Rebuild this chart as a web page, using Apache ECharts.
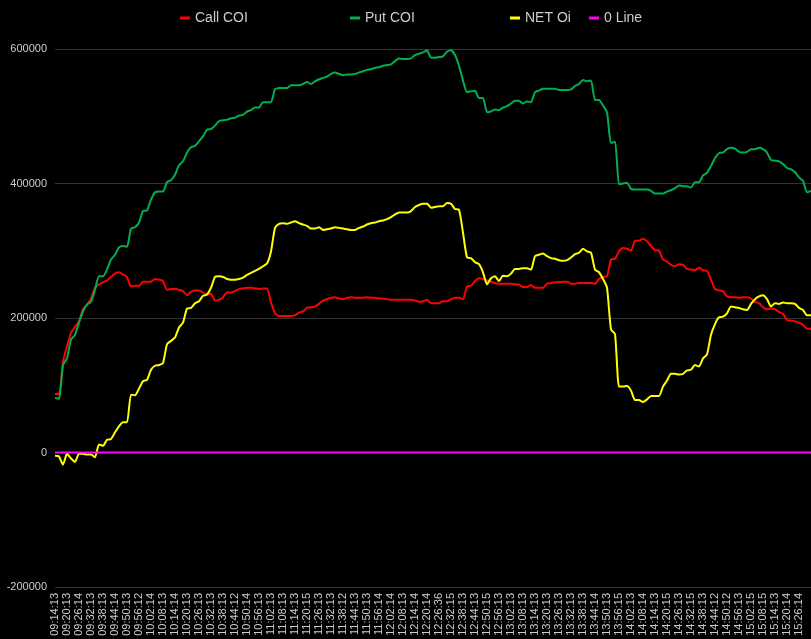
<!DOCTYPE html>
<html>
<head>
<meta charset="utf-8">
<title>COI</title>
<script src="https://cdn.jsdelivr.net/npm/echarts@6/dist/echarts.min.js"></script>
<style>
  html, body { margin: 0; padding: 0; background: #000; }
  #chart { width: 811px; height: 639px; }
</style>
</head>
<body>
<div id="chart"></div>
<script>
// time labels shown on the axis, one every 6 minutes
const tickLabels = [
  '09:14:13', '09:20:13', '09:26:14', '09:32:13', '09:38:13', '09:44:14', '09:50:13', '09:56:12',
  '10:02:14', '10:08:13', '10:14:14', '10:20:13', '10:26:13', '10:32:13', '10:38:13', '10:44:12', '10:50:14', '10:56:13',
  '11:02:13', '11:08:13', '11:14:13', '11:20:15', '11:26:13', '11:32:13', '11:38:12', '11:44:13', '11:50:13', '11:56:14',
  '12:02:14', '12:08:13', '12:14:14', '12:20:14', '12:26:36', '12:32:15', '12:38:13', '12:44:13', '12:50:15', '12:56:13',
  '13:02:13', '13:08:13', '13:14:13', '13:20:13', '13:26:13', '13:32:13', '13:38:13', '13:44:14', '13:50:13', '13:56:15',
  '14:02:13', '14:08:14', '14:14:13', '14:20:15', '14:26:13', '14:32:15', '14:38:13', '14:44:12', '14:50:12', '14:56:13',
  '15:02:15', '15:08:15', '15:14:13', '15:20:14', '15:26:14'
]

const callCOI = [
  87000, 87000, 135000, 158000, 178000, 187000, 195000, 213000, 220000, 229000,
  245000, 250000, 253000, 256000, 261000, 266000, 268000, 265000, 261000, 247000,
  248000, 248000, 254000, 254000, 254000, 258000, 257000, 255000, 242000, 243000,
  243000, 242000, 240000, 234000, 239000, 241000, 241000, 238000, 235000, 236000,
  226000, 227000, 231000, 238000, 238000, 240000, 243000, 244000, 245000, 245000,
  244000, 243000, 244000, 244000, 223000, 207000, 203000, 203000, 203000, 203000,
  204000, 208000, 210000, 215000, 216000, 217000, 221000, 226000, 228000, 230000,
  231000, 229000, 228000, 230000, 231000, 230000, 230000, 230000, 231000, 230000,
  230000, 229000, 229000, 228000, 227000, 227000, 227000, 227000, 227000, 227000,
  226000, 224000, 225000, 227000, 222000, 222000, 222000, 225000, 225000, 228000,
  230000, 230000, 228000, 247000, 248000, 255000, 259000, 258000, 256000, 254000,
  252000, 251000, 251000, 251000, 251000, 250000, 250000, 246000, 246000, 249000,
  245000, 245000, 245000, 251000, 252000, 253000, 253000, 254000, 254000, 251000,
  251000, 252000, 252000, 252000, 252000, 251000, 258000, 261000, 262000, 287000,
  288000, 299000, 304000, 303000, 300000, 315000, 315000, 318000, 314000, 307000,
  301000, 300000, 287000, 284000, 279000, 277000, 280000, 279000, 273000, 272000,
  271000, 275000, 271000, 270000, 257000, 243000, 241000, 240000, 232000, 231000,
  231000, 230000, 231000, 231000, 229000, 224000, 222000, 216000, 213000, 214000,
  213000, 209000, 206000, 197000, 196000, 195000, 193000, 190000, 184000, 184000
]

const putCOI = [
  81000, 80000, 130000, 140000, 168000, 175000, 193000, 210000, 220000, 224000,
  242000, 262000, 262000, 272000, 287000, 294000, 305000, 307000, 306000, 333000,
  335000, 342000, 359000, 360000, 376000, 387000, 388000, 388000, 402000, 405000,
  413000, 427000, 433000, 446000, 454000, 456000, 463000, 470000, 480000, 481000,
  486000, 493000, 494000, 495000, 497000, 498000, 501000, 502000, 507000, 509000,
  513000, 513000, 521000, 521000, 521000, 540000, 542000, 542000, 542000, 546000,
  546000, 546000, 548000, 551000, 548000, 552000, 555000, 557000, 559000, 563000,
  565000, 563000, 561000, 562000, 562000, 563000, 565000, 567000, 569000, 570000,
  572000, 573000, 575000, 576000, 577000, 582000, 586000, 585000, 585000, 586000,
  591000, 593000, 595000, 598000, 587000, 587000, 588000, 589000, 596000, 598000,
  591000, 575000, 553000, 536000, 537000, 538000, 527000, 527000, 506000, 507000,
  510000, 509000, 513000, 515000, 519000, 523000, 523000, 519000, 522000, 521000,
  536000, 538000, 541000, 541000, 541000, 541000, 539000, 539000, 539000, 540000,
  545000, 548000, 554000, 552000, 553000, 524000, 524000, 516000, 506000, 460000,
  462000, 399000, 400000, 401000, 392000, 391000, 391000, 391000, 391000, 389000,
  385000, 385000, 385000, 388000, 390000, 393000, 397000, 396000, 396000, 394000,
  402000, 402000, 412000, 416000, 426000, 438000, 445000, 446000, 451000, 453000,
  452000, 447000, 446000, 447000, 451000, 451000, 453000, 451000, 446000, 435000,
  434000, 433000, 429000, 423000, 421000, 417000, 409000, 404000, 387000, 389000
]

const netOi = [
  -5000, -6000, -18000, -2000, -9000, -14000, -2000, -2000, -3000, -3000,
  -7000, 12000, 10000, 19000, 20000, 30000, 39000, 45000, 45000, 86000,
  85000, 95000, 106000, 108000, 123000, 129000, 130000, 133000, 161000, 166000,
  171000, 186000, 193000, 214000, 215000, 222000, 225000, 233000, 235000, 245000,
  261000, 262000, 261000, 258000, 257000, 257000, 258000, 260000, 264000, 267000,
  270000, 273000, 277000, 281000, 299000, 334000, 340000, 341000, 340000, 342000,
  344000, 341000, 339000, 337000, 333000, 333000, 335000, 331000, 332000, 333000,
  335000, 334000, 333000, 332000, 331000, 331000, 334000, 336000, 339000, 341000,
  342000, 344000, 345000, 347000, 350000, 354000, 357000, 357000, 357000, 359000,
  365000, 368000, 370000, 370000, 364000, 365000, 366000, 366000, 371000, 370000,
  362000, 361000, 327000, 290000, 289000, 283000, 280000, 268000, 250000, 259000,
  262000, 255000, 263000, 262000, 266000, 273000, 273000, 274000, 274000, 272000,
  292000, 294000, 296000, 292000, 289000, 288000, 286000, 285000, 286000, 290000,
  295000, 297000, 303000, 299000, 297000, 272000, 268000, 258000, 245000, 183000,
  176000, 98000, 98000, 99000, 92000, 78000, 78000, 75000, 79000, 84000,
  84000, 84000, 98000, 107000, 117000, 117000, 116000, 117000, 122000, 123000,
  130000, 128000, 140000, 146000, 175000, 191000, 201000, 202000, 207000, 217000,
  216000, 215000, 213000, 212000, 221000, 228000, 232000, 234000, 228000, 217000,
  222000, 221000, 223000, 222000, 222000, 221000, 215000, 212000, 204000, 204000
]

const zeroLine = callCOI.map( () => 0 )

// every 2 minutes between the shown ticks
const addMinutes = ( t, m ) => {
  const [ h, mm, s ] = t.split( ':' ).map( Number )
  const total = h * 60 + mm + m
  const pad = n => String( n ).padStart( 2, '0' )
  return pad( Math.floor( total / 60 ) ) + ':' + pad( total % 60 ) + ':' + pad( s )
}
const categories = []
tickLabels.forEach( t => {
  categories.push( t, addMinutes( t, 2 ), addMinutes( t, 4 ) )
} )
while ( categories.length < callCOI.length ) {
  categories.push( addMinutes( categories[ categories.length - 1 ], 2 ) )
}
const tickSet = new Set( tickLabels )

const font = '"Liberation Sans", Arial, sans-serif'

const chart = echarts.init( document.getElementById( 'chart' ) )

const legendItem = ( name, left ) => ( {
  data : [ name ],
  top : 6,
  left : left,
  icon : 'rect',
  itemWidth : 10,
  itemHeight : 3,
  itemGap : 0,
  textStyle : { color : '#ccc', fontSize : 14, fontFamily : font }
} )

const lineSeries = ( name, data, color ) => ( {
  name : name,
  type : 'line',
  data : data,
  showSymbol : false,
  symbol : 'none',
  smooth : 0.2,
  lineStyle : { width : 2, color : color },
  itemStyle : { color : color },
  animation : false
} )

chart.setOption( {
  backgroundColor : '#000',
  textStyle : { fontFamily : font },
  legend : [
    legendItem( 'Call COI', 175 ),
    legendItem( 'Put COI', 345 ),
    legendItem( 'NET Oi', 505 ),
    legendItem( '0 Line', 584 )
  ],
  grid : {
    top : 49,
    left : 55,
    right : 0,
    bottom : 52,
    outerBoundsMode : 'none'
  },
  xAxis : {
    type : 'category',
    data : categories,
    boundaryGap : false,
    axisLine : { show : false },
    axisTick : { show : false },
    splitLine : { show : false },
    axisLabel : {
      interval : ( index, value ) => tickSet.has( value ),
      rotate : 90,
      margin : 6,
      color : '#ccc',
      fontSize : 11,
      fontFamily : font
    }
  },
  yAxis : {
    type : 'value',
    min : -200000,
    max : 600000,
    interval : 200000,
    axisLine : { show : false },
    axisTick : { show : false },
    splitLine : { lineStyle : { color : '#333', width : 1 } },
    axisLabel : {
      color : '#ccc',
      fontSize : 11,
      margin : 8,
      fontFamily : font,
      formatter : v => String( v )
    }
  },
  series : [
    lineSeries( 'Call COI', callCOI, '#ff0000' ),
    lineSeries( 'Put COI', putCOI, '#00b050' ),
    lineSeries( 'NET Oi', netOi, '#ffff00' ),
    lineSeries( '0 Line', zeroLine, '#ff00ff' )
  ]
} )

window.addEventListener( 'resize', () => chart.resize() )
</script>
</body>
</html>
